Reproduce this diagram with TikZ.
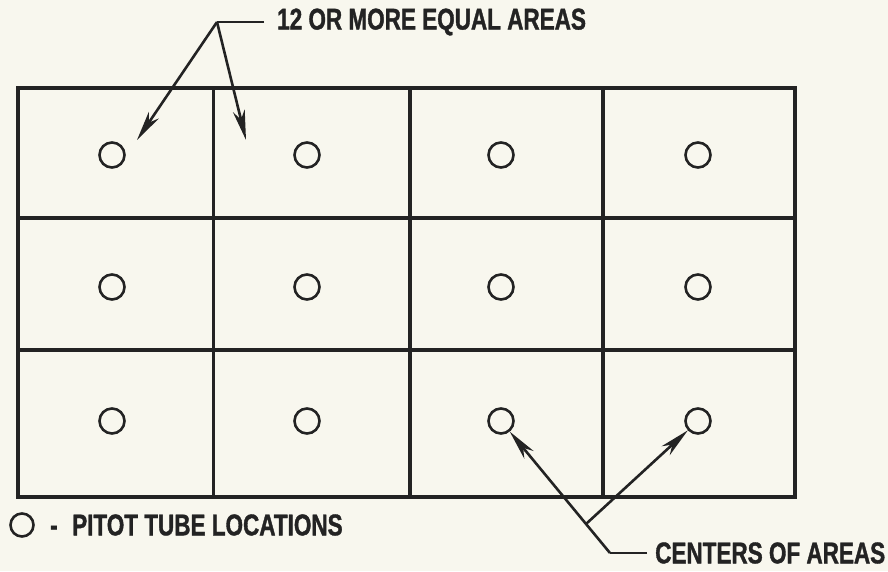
\documentclass[tikz,border=0pt]{standalone}
\usepackage{fontspec}
\newfontfamily\lblfont{Liberation Sans}[FakeStretch=0.75, BoldFeatures={FakeBold=1.2}]
\usetikzlibrary{arrows.meta,calc}
\definecolor{paper}{RGB}{248,247,238}
\definecolor{ink}{RGB}{35,35,35}
\tikzset{
  gridline/.style={draw=ink, line width=3.2pt},
  pitot/.style={circle, draw=ink, line width=2.6pt, minimum size=25pt, inner sep=0pt},
  legendpitot/.style={circle, draw=ink, line width=2.6pt, minimum size=23pt, inner sep=0pt},
  lbl/.style={font=\lblfont\bfseries\fontsize{30}{30}\selectfont, text=ink, inner sep=0pt},
  leader/.style={draw=ink, line width=2.6pt},
  ptr/.style={draw=ink, line width=2.6pt, -{Stealth[length=30pt, width=12pt, inset=9pt]}}
}
\begin{document}
\begin{tikzpicture}[x=1pt, y=-1pt]
\fill[paper] (0,0) rectangle (888,571);
\useasboundingbox (0,0) rectangle (888,571);

% grid
\draw[gridline] (18,88) rectangle (795,497);
\foreach \xx in {213.5,410,603} \draw[gridline] (\xx,88) -- (\xx,497);
\foreach \yy in {218,350} \draw[gridline] (18,\yy) -- (795,\yy);

% pitot tube locations
\foreach \yy [count=\r] in {155,287,421}
  \foreach \xx [count=\c] in {112,307,501,698}
    \node[pitot] (c-\r-\c) at (\xx,\yy) {};

% top label
\node[lbl, anchor=west] (toplbl) at (277,22) {12 OR MORE EQUAL AREAS};
\coordinate (topj) at (217,22);
\coordinate (tipA) at (137,140);
\coordinate (tipB) at (246,140);
\draw[leader] ([xshift=-13pt]toplbl.west) -- (topj);
\draw[ptr] (topj) -- (tipA);
\draw[ptr] (topj) -- (tipB);

% bottom label
\node[lbl, anchor=west] (botlbl) at (655,553) {CENTERS OF AREAS};
\coordinate (botj) at (610,553);
\draw[leader] ([xshift=-8pt]botlbl.west) -- (botj);
\draw[ptr] (botj) -- (c-3-3);
\coordinate (fork) at ($(botj)!0.22!(c-3-3)$);
\draw[ptr] (fork) -- (c-3-4);

% legend
\node[legendpitot] (legc) at (22,525) {};
\node[lbl, anchor=west] (legtxt) at (72,525) {PITOT TUBE LOCATIONS};
\node[lbl, anchor=base west] (legdash) at ([xshift=-22pt]legtxt.base west) {-};
\end{tikzpicture}
\end{document}
